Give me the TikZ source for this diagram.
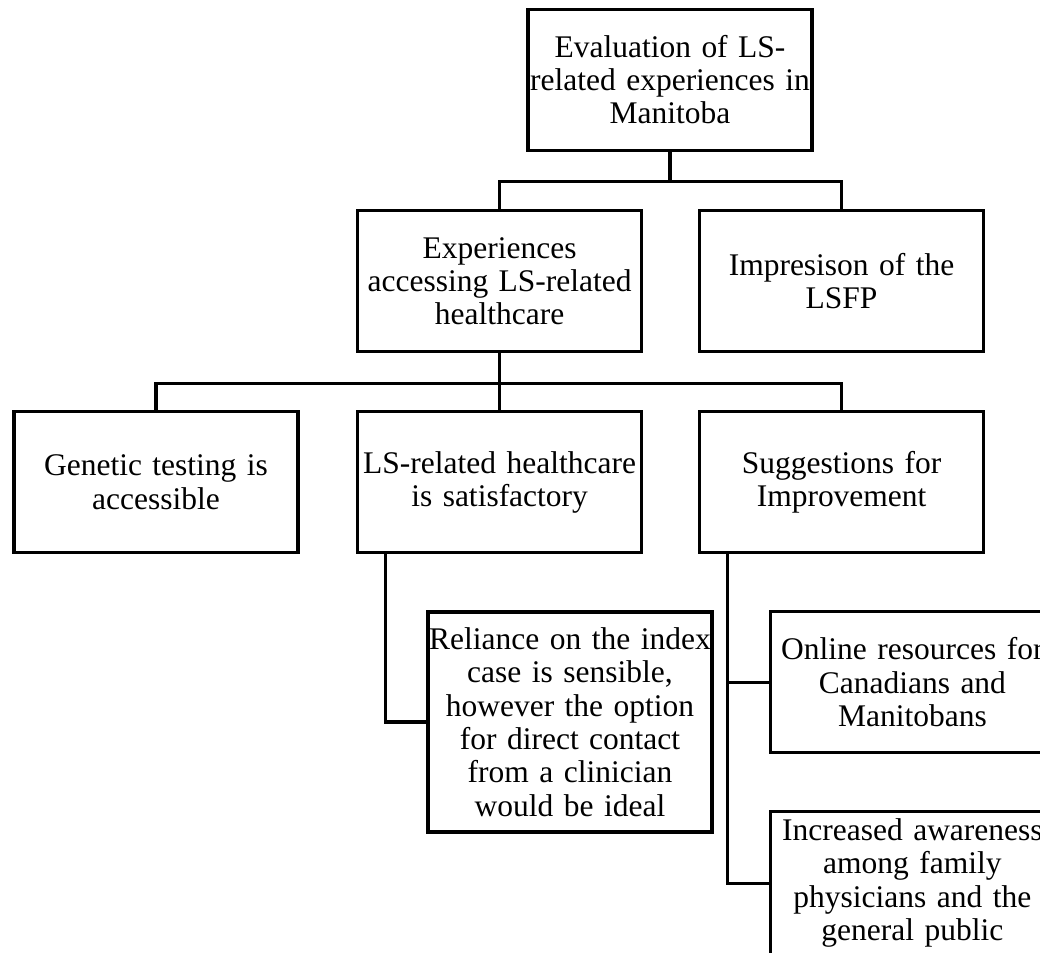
\documentclass[tikz,border=0pt]{standalone}
\usepackage{fontspec}
\setmainfont{Liberation Serif}
\begin{document}
\begin{tikzpicture}[
    box/.style={
        draw,
        line width=2.2pt,
        inner sep=0pt,
        text width=7.1cm,
        minimum height=3.525cm,
        align=center,
        font=\fontsize{22.4}{23.8}\selectfont
    },
    link/.style={line width=2.2pt}
]

\useasboundingbox (0,0) rectangle (26,-23.825);
\clip (0,0) rectangle (26,-23.825);

\node[box] (eval) at (16.75,-1.99)
    {Evaluation of LS-\\related experiences in\\Manitoba};

\node[box] (exp) at (12.49,-7.03)
    {Experiences\\accessing LS-related\\healthcare};

\node[box] (imp) at (21.04,-7.03)
    {Impresison of the\\LSFP};

\node[box] (gen) at (3.9,-12.06)
    {Genetic testing is\\accessible};

\node[box] (sat) at (12.49,-12.06)
    {LS-related healthcare\\is satisfactory};

\node[box] (sug) at (21.04,-12.06)
    {Suggestions for\\Improvement};

\node[box, minimum height=5.5cm] (rel) at (14.25,-18.05)
    {Reliance on the index\\case is sensible,\\however the option\\for direct contact\\from a clinician\\would be ideal};

\node[box] (onl) at (22.81,-17.06)
    {Online resources for\\Canadians and\\Manitobans};

\node[box, minimum height=3.6cm] (inc) at (22.81,-22.08)
    {Increased awareness\\among family\\physicians and the\\general public};

\draw[link] (eval.south) -- ++(0,-0.75) -| (exp.north);
\draw[link] (eval.south) -- ++(0,-0.75) -| (imp.north);

\draw[link] (exp.south) -- ++(0,-0.75) -| (gen.north);
\draw[link] (exp.south) -- (sat.north);
\draw[link] (exp.south) -- ++(0,-0.75) -| (sug.north);

\draw[link] ([xshift=0.725cm]sat.south west) |- (rel.west);

\draw[link] ([xshift=0.725cm]sug.south west) |- (onl.west);
\draw[link] ([xshift=0.725cm]sug.south west) |- (inc.west);

\end{tikzpicture}
\end{document}
